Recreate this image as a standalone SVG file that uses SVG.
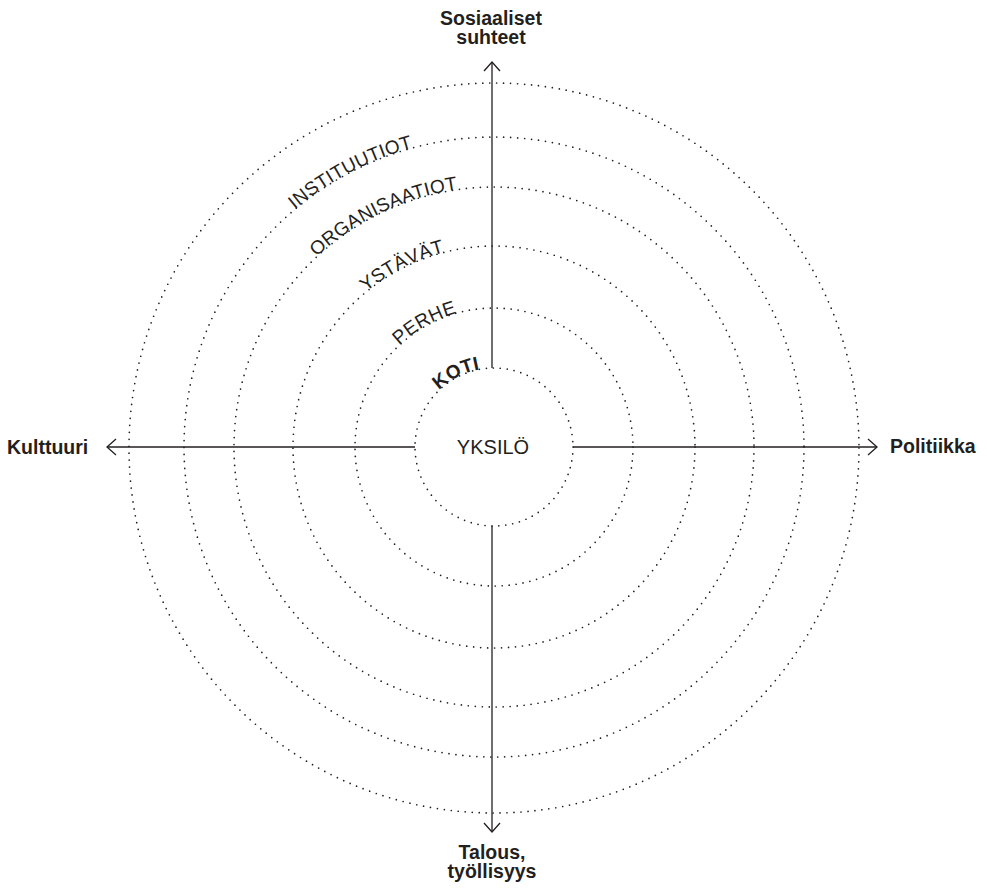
<svg xmlns="http://www.w3.org/2000/svg" xmlns:xlink="http://www.w3.org/1999/xlink" width="987" height="890" viewBox="0 0 987 890">
  <style>
    .ring { fill: none; stroke: #231f20; stroke-width: 1.7; stroke-dasharray: 0 7; stroke-linecap: round; }
    .axis { fill: none; stroke: #231f20; stroke-width: 1.3; }
    .axis-label { font-family: "Liberation Sans", Arial, sans-serif; font-weight: bold; font-size: 19.5px; fill: #231f20; }
    .ring-label { font-family: "Liberation Sans", Arial, sans-serif; font-size: 19px; letter-spacing: 0.3px; fill: #231f20; }
    .center-label { font-family: "Liberation Sans", Arial, sans-serif; font-size: 20px; fill: #231f20; }
  </style>
  <defs>
    <marker id="open-arrow" viewBox="-11 -10 13 20" markerWidth="13" markerHeight="20" refX="0" refY="0" orient="auto" markerUnits="userSpaceOnUse">
      <path d="M-9,-8 L0,0 L-9,8" fill="none" stroke="#231f20" stroke-width="1.3"/>
    </marker>
    <!-- arcs used as baselines for the ring labels (centre 494,447) -->
    <path id="arc-r310" d="M294.7,209.5 A310,310 0 0 1 693.3,209.5"/>
    <path id="arc-r260" d="M316.7,256.8 A260,260 0 0 1 671.3,256.8"/>
    <path id="arc-r201" d="M366.1,291.9 A201,201 0 0 1 621.9,291.9"/>
    <path id="arc-r139" d="M399.2,345.3 A139,139 0 0 1 588.8,345.3"/>
    <path id="arc-r79" d="M439.1,390.2 A79,79 0 0 1 548.9,390.2"/>
  </defs>

  <rect width="987" height="890" fill="#ffffff"/>

  <!-- connectors: the four axes -->
  <g id="axes">
    <path class="axis" d="M492,368 V62" marker-end="url(#open-arrow)"/>
    <path class="axis" d="M492,526 V832" marker-end="url(#open-arrow)"/>
    <path class="axis" d="M415,447 H107" marker-end="url(#open-arrow)"/>
    <path class="axis" d="M573,447 H877" marker-end="url(#open-arrow)"/>
  </g>

  <!-- concentric rings -->
  <g id="ring-outer">
    <circle class="ring" cx="494" cy="448" r="365"/>
  </g>
  <g id="ring-instituutiot">
    <circle class="ring" cx="494" cy="447" r="310"/>
    <text class="ring-label"><textPath xlink:href="#arc-r310" href="#arc-r310">INSTITUUTIOT</textPath></text>
  </g>
  <g id="ring-organisaatiot">
    <circle class="ring" cx="494" cy="447" r="260"/>
    <text class="ring-label"><textPath xlink:href="#arc-r260" href="#arc-r260">ORGANISAATIOT</textPath></text>
  </g>
  <g id="ring-ystavat">
    <circle class="ring" cx="494" cy="447" r="201"/>
    <text class="ring-label"><textPath xlink:href="#arc-r201" href="#arc-r201">YSTÄVÄT</textPath></text>
  </g>
  <g id="ring-perhe">
    <circle class="ring" cx="494" cy="447" r="139"/>
    <text class="ring-label"><textPath xlink:href="#arc-r139" href="#arc-r139">PERHE</textPath></text>
  </g>
  <g id="ring-koti">
    <circle class="ring" cx="494" cy="447" r="79"/>
    <text class="ring-label" font-weight="bold"><textPath xlink:href="#arc-r79" href="#arc-r79">KOTI</textPath></text>
  </g>

  <g id="yksilo">
    <text class="center-label" x="493" y="454" text-anchor="middle">YKSILÖ</text>
  </g>

  <!-- axis end labels -->
  <g id="label-sosiaaliset">
    <text class="axis-label" x="491" y="25" text-anchor="middle">Sosiaaliset</text>
    <text class="axis-label" x="491" y="44" text-anchor="middle">suhteet</text>
  </g>
  <g id="label-talous">
    <text class="axis-label" x="492" y="859" text-anchor="middle">Talous,</text>
    <text class="axis-label" x="492" y="878" text-anchor="middle">työllisyys</text>
  </g>
  <g id="label-kulttuuri">
    <text class="axis-label" x="7" y="454">Kulttuuri</text>
  </g>
  <g id="label-politiikka">
    <text class="axis-label" x="890" y="453">Politiikka</text>
  </g>
</svg>
